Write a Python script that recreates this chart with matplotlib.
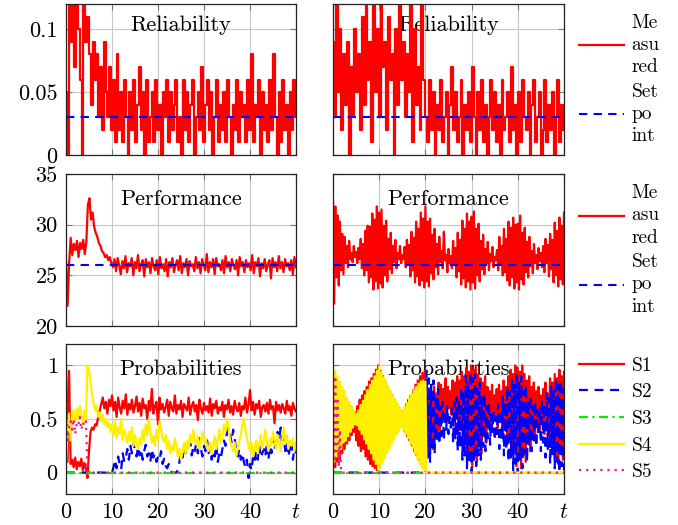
import numpy as np
import matplotlib.pyplot as plt

plt.rcParams['font.family'] = 'serif'
plt.rcParams['font.serif'] = ['cmr10']
plt.rcParams['mathtext.fontset'] = 'cm'
plt.rcParams['axes.formatter.use_mathtext'] = True

t_end = 50

# --- Reliability (values in hundredths) ---
rel_left = [5,0,12,9,12,7,12,10,6,0,12,9,11,
            8,4,9,6,8,3,7,2,9,5,3,7,2,
            6,1,8,2,5,1,6,3,0,5,2,6,1,4,7,2,5,0,6,1,3,5,1,6,2,4,0,5,3,6,1,5,2,4,
            6,1,3,0,6,2,5,1,4,6,0,3,5,2,7,1,4,6,2,5,0,3,6,1,4,2,5,1,6,3,0,4,2,6,
            1,5,3,4,1,6,2,8,1,4,3,6,0,5,2,4,1,6,2,8,3,0,5,1,6,2,4,0,5,2,6,3]
rel_right = [9,3,12,5,10,2,8,4,9,0,7,3,10,5,8,2,11,4,12,6,9,1,12,5,10,3,12,7,9,2,
             11,6,8,0,10,4,12,6,9,3,8,5,12,1,10,4,7,2,12,6,
             3,1,6,2,5,0,4,2,6,1,3,5,0,4,7,2,5,1,3,6,0,4,2,5,1,7,3,0,5,2,6,1,4,0,3,
             6,2,5,1,4,0,6,2,3,5,1,7,2,4,0,5,1,6,3,2,5,0,4,6,1,3,5,0,2,6,1,4,2,5,0,
             3,6,1,4,2]
rel_setpoint = 0.03

# --- Performance (values in tenths) ---
perf_left = [265,220,262,287,270,281,275,284,268,282,276,285,271,283,
             320,326,305,312,298,292,288,282,279,274,272,268,270,265,268,262,
             258,266,254,267,260,251,264,257,269,253,262,259,267,250,263,257,270,254,
             261,265,249,266,258,263,252,267,259,255,265,251,268,257,261,254,266,249,
             263,258,267,253,260,265,255,269,252,262,258,266,250,264,259,261,254,268,
             257,263,252,266,260,255,271,253,263,258,266,251,267,259,261,255,265,252,
             269,258,263,254,266,260,256,265,250,268,259,263,253,265,258,262,255,270,
             252,263,259,267,249,262,257,266,254,261,265,247,267,258,263,254,269,257,
             263,253,266,259,262,255,265,251,268,258]
perf_right = [323,222,318,248,309,240,303,255,291,251,288,262,279,258,284,266,272,263,279,268,
              273,262,277,266,286,257,281,250,294,255,299,243,298,248,311,236,305,244,318,237,
              312,242,315,238,299,250,304,244,286,256,292,252,279,263,285,257,272,266,279,262,
              270,266,278,258,285,262,280,249,293,255,287,243,303,249,296,240,312,245,306,238,
              318,244,303,239,306,252,290,246,296,258,281,251,288,263,274,257,293,265,270,253,
              276,262,269,257,284,260,277,248,292,254,285,241,304,247,296,238,311,244,303,236,
              308,243,313,237,296,250,301,244,284,256,290,251,276,262,283,255,271,264,278,258,
              268,265,275,255,288,261,279,250,296,253,286,245,303,240,297,248,307,237,300,243,
              301,236,309,246,292,241,297,253,283,248,288,259,274,252,281,262,270,256,277,264,
              272,258,279,253,286,262,280,249,291,256,285,243,302,250,294,239,307,246,299,241,312]
perf_setpoint = 26

# --- Probabilities (values in hundredths) ---
s1_left = [100,10,95,8,12,5,14,3,10,6,13,2,9,4,-5,20,38,42,40,45,44,52,58,64,70,60,66,55,68,62,72,
           58,66,52,70,61,55,67,60,73,54,64,59,68,56,62,71,57,65,53,69,60,63,50,67,58,78,55,62,
           66,45,70,59,64,56,61,68,53,66,60,57,72,55,63,59,67,52,64,61,58,70,54,62,66,57,63,49,
           68,60,55,65,58,62,56,69,53,64,60,67,55,61,58,66,52,63,59,68,56,62,54,67,60,57,65,53,
           62,59,70,56,63,77,58,66,54,64,60,67,52,61,63,57,65,55,68,59,62,46,66,58,63,56,64,60,
           55,67,58,62,53,65,60,57]
s2_left = [0] * 30 + [0,5,12,4,15,8,3,18,10, 14,22,12,25,18,28,20,15,24,
                      16,22,12,20,26,15,18,10,22, 14,18,10,15,12,20,8,13,6,
                      4,8,2,0,0,0,0,3,10, 20,14,25,18,28,22,30,16,24,
                      20,28,18,32,22,15,25,20,30, 18,24,12,20,15,26,10,18,14,
                      22,30,25,38,42,35,28,40,32, 20,15,22,12,18,10,5,12,-5,
                      8,2,15,10,20,12,25,14,18, 22,15,28,12,25,18,32,22,28,
                      38,30,42,25,35,20,28,15,22, 30,12,25,18]
s3_left = [0, 0]
s4_left = [10,35,55,30,52,58,48,60,50,62,54,45,58,50,100,95,85,72,65,58,62,52,56,48,54,45,50,42,47,38,45,
           35,48,32,42,36,50,30,40,34,28,38,30,42,25,35,28,22,32,26,40,30,45,35,50,38,28,34,25,40,30,
           48,40,32,28,35,22,30,18,25,20,32,24,15,22,12,20,28,18,30,22,35,28,40,30,26,34,22,30,38,28,
           32,25,20,28,18,26,34,22,30,40,28,35,45,38,50,42,30,25,20,28,15,22,30,35,45,50,40,32,25,20,
           28,15,22,30,18,26,35,22,30,40,28,20,32,25,38,30,22,35,28,20,30,42,28,35,22,30,25,32,20,28]
s5_left = [85,30,42,48,40,50,36,46,44,52,40,47,44,48,0] + [0] * 136

s1_right = [0,85,5,80,10,78,12,75,18,72,22,70,27,66,30,62,35,58,38,56,30,62,25,68,20,72,22,76,15,80,
            12,85,8,88,6,92,4,96,2,100,5,95,10,90,15,85,20,80,24,76,28,72,32,68,36,64,40,60,43,57,
            45,58,38,64,34,68,30,72,25,77,20,82,16,86,12,90,8,93,5,95,10,
            62,18,70,30,76,22,80,36,74,40,84,34,82,50,78,56,88,48,80,60,76,54,86,44,84,
            50,90,34,86,40,94,22,90,30,98,12,94,18,100,5,96,14,100,10,92,24,88,18,84,34,90,
            28,80,44,76,40,82,52,72,48,78,42,82,54,76,36,86,44,80,26,90,32,96,16,92,22,100,
            6,98,12,94,4,100,16,92,10,86,28,90,20,80,36,84,30,76,44,80,40,72,48,78,36,84,
            44,74,30,88,24,84,18,92,14,88,8,96,20,90,12,94]
s2_right = [0] * 80 + [0,95,14,88,10,82,20,86,18,72,28,78,26,62,34,66,30,58,40,62,36,52,42,60,28,
                       66,32,70,20,68,24,80,12,76,16,90,4,84,8,94,0,88,10,92,6,78,16,84,12,70,24,74,
                       20,62,32,66,26,54,38,58,30,52,36,64,22,58,30,72,16,66,22,80,10,76,14,88,2,82,
                       8,92,0,84,12,90,4,76,18,82,10,68,26,72,20,62,30,66,24,58,34,60,20,68,28,64,
                       14,74,22,70,8,80,16,76,4,88,10,82,0,86,6,78,2]
s3_right = [0, 0]
s4_right = [100,10,95,15,90,20,85,22,80,28,76,30,70,34,66,38,62,42,58,45,55,44,58,40,63,36,67,31,
            72,27,77,22,82,18,86,12,90,8,95,3,99,4,94,9,89,13,85,18,80,22,76,27,72,31,68,35,64,38,
            60,42,57,40,61,36,65,32,69,27,73,23,77,18,80,13,83,8,85,4,86,2,85] + [0] * 120
s5_right = [100,10,90,20,70,5,40,0] + [0] * 193

fig, axes = plt.subplots(3, 2, figsize=(6.78, 5.25))
left_x, right_x, w = 66 / 678, 333 / 678, 230 / 678
rows = [(4, 155), (174, 326), (344, 494)]
for r, (top, bot) in enumerate(rows):
    axes[r, 0].set_position([left_x, 1 - bot / 525, w, (bot - top) / 525])
    axes[r, 1].set_position([right_x, 1 - bot / 525, w + 1 / 678, (bot - top) / 525])


def tline(vals):
    return np.linspace(0, t_end, len(vals))


def style(ax, ylim, yticks, ylabels, show_y, show_x, title, ty):
    ax.set_xlim(0, t_end)
    ax.set_ylim(*ylim)
    ax.set_xticks([0, 10, 20, 30, 40, 50])
    ax.set_yticks(yticks)
    if show_x:
        ax.set_xticklabels(['0', '10', '20', '30', '40', '$t$'])
    else:
        ax.set_xticklabels([])
    if show_y:
        ax.set_yticklabels(ylabels)
    else:
        ax.set_yticklabels([])
    ax.tick_params(direction='in', length=4, width=0.8, color='#777777',
                   top=True, right=True, labelsize=16, pad=6)
    ax.grid(True, color='#c8c8c8', lw=0.8)
    ax.set_axisbelow(True)
    for s in ax.spines.values():
        s.set_linewidth(0.9)
        s.set_color('#222222')
    ax.text(0.5, ty, title, transform=ax.transAxes, ha='center', va='center',
            fontsize=16, zorder=1)


def add_legend(ax, handles, labels, spacing):
    leg = ax.legend(handles, labels, loc='center left', bbox_to_anchor=(1.065, 0.5),
                    frameon=False, fontsize=14, handlelength=2.3, handletextpad=0.4,
                    labelspacing=spacing, borderpad=0, borderaxespad=0)
    for txt in leg.get_texts():
        txt.set_linespacing(1.3)


red, blue, green, yellow, pink = '#ff0000', '#0000ff', '#00ee00', '#fff000', '#f0149a'
lw = 1.6

for c, rel in enumerate([rel_left, rel_right]):
    ax = axes[0, c]
    m, = ax.plot(tline(rel), np.array(rel) / 100, color=red, lw=lw, drawstyle='steps-mid')
    sp = ax.axhline(rel_setpoint, color=blue, lw=1.5, dashes=(4, 3))
    style(ax, (0, 0.12), [0, 0.05, 0.1], ['0', '0.05', '0.1'], c == 0, False, 'Reliability', 0.86)
add_legend(axes[0, 1], [m, sp], ['Me\nasu\nred', 'Set\npo\nint'], 0.35)

for c, perf in enumerate([perf_left, perf_right]):
    ax = axes[1, c]
    m, = ax.plot(tline(perf), np.array(perf) / 10, color=red, lw=lw)
    sp = ax.axhline(perf_setpoint, color=blue, lw=1.5, dashes=(4, 3))
    style(ax, (20, 35), [20, 25, 30, 35], ['20', '25', '30', '35'], c == 0, False, 'Performance', 0.835)
add_legend(axes[1, 1], [m, sp], ['Me\nasu\nred', 'Set\npo\nint'], 0.35)

probs = [(s1_left, s2_left, s3_left, s4_left, s5_left),
         (s1_right, s2_right, s3_right, s4_right, s5_right)]
for c, (s1, s2, s3, s4, s5) in enumerate(probs):
    ax = axes[2, c]
    h1, = ax.plot(tline(s1), np.array(s1) / 100, color=red, lw=lw)
    h2, = ax.plot(tline(s2), np.array(s2) / 100, color=blue, lw=lw, dashes=(4, 3))
    h3, = ax.plot(tline(s3), np.array(s3) / 100, color=green, lw=lw, dashes=(4, 2, 1, 2))
    h4, = ax.plot(tline(s4), np.array(s4) / 100, color=yellow, lw=lw)
    h5, = ax.plot(tline(s5), np.array(s5) / 100, color=pink, lw=1.6, dashes=(1, 2.2))
    style(ax, (-0.2, 1.2), [0, 0.5, 1], ['0', '0.5', '1'], c == 0, True, 'Probabilities', 0.833)
add_legend(axes[2, 1], [h1, h2, h3, h4, h5], ['S1', 'S2', 'S3', 'S4', 'S5'], 0.45)

fig.savefig('out.png', dpi=100)
